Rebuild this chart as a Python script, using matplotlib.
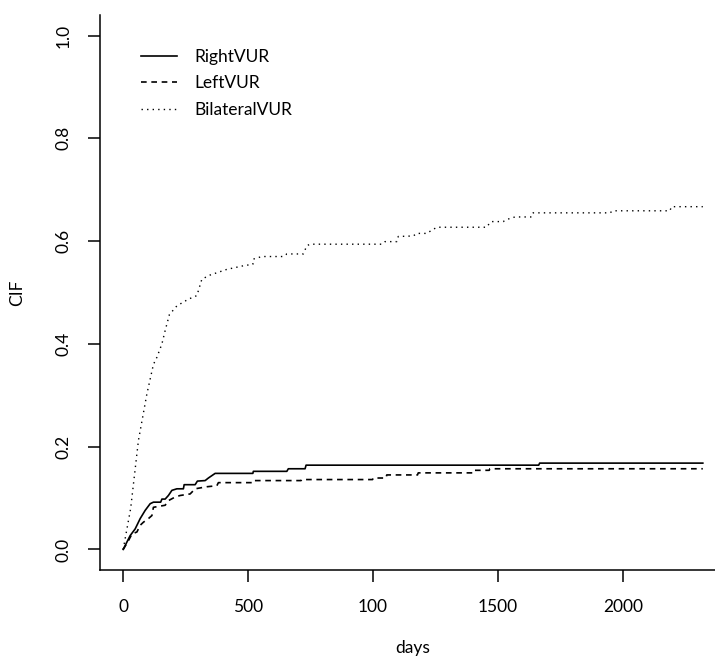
import matplotlib.pyplot as plt

# =====================================================
# Style
# =====================================================

plt.rcParams.update({
    "font.family": ["Lato", "DejaVu Sans"],
    "font.size": 12.5,
    "axes.linewidth": 1.1,
    "xtick.major.width": 1.1,
    "ytick.major.width": 1.1,
    "xtick.major.size": 8.6,
    "ytick.major.size": 8.6,
})

# =====================================================
# Data (curve vertices)
# =====================================================

right_t = [0, 28, 48, 68, 88, 108, 121, 150, 155, 168, 181, 195, 215, 241,
           244, 288, 297, 328, 341, 368, 519, 521, 655, 661, 728, 732, 1663,
           1667, 2320]
right_cif = [0.0, 0.027, 0.040, 0.060, 0.076, 0.089, 0.092, 0.092, 0.098,
             0.098, 0.105, 0.115, 0.118, 0.118, 0.126, 0.126, 0.133, 0.134,
             0.139, 0.148, 0.148, 0.152, 0.152, 0.157, 0.157, 0.164, 0.164,
             0.168, 0.168]

left_t = [0, 21, 35, 55, 68, 81, 101, 115, 121, 168, 181, 208, 228, 268,
          288, 335, 375, 381, 521, 524, 712, 715, 998, 1001, 1052, 1055,
          1178, 1181, 1398, 1401, 1465, 1468, 2320]
left_cif = [0.0, 0.017, 0.030, 0.034, 0.047, 0.053, 0.060, 0.066, 0.082,
            0.086, 0.095, 0.102, 0.105, 0.108, 0.118, 0.122, 0.124, 0.130,
            0.130, 0.134, 0.134, 0.136, 0.136, 0.139, 0.139, 0.145, 0.145,
            0.149, 0.149, 0.154, 0.154, 0.157, 0.157]

bilat_t = [0, 30, 61, 95, 121, 135, 155, 168, 185, 215, 261, 295, 305, 315,
           348, 415, 481, 519, 521, 555, 641, 655, 721, 735, 748, 1035, 1048,
           1095, 1101, 1161, 1175, 1215, 1241, 1257, 1455, 1468, 1475, 1521,
           1535, 1568, 1635, 1641, 1948, 1961, 2188, 2195, 2320]
bilat_cif = [0.0, 0.080, 0.212, 0.303, 0.360, 0.374, 0.400, 0.426, 0.457,
             0.474, 0.487, 0.494, 0.510, 0.526, 0.534, 0.545, 0.552, 0.555,
             0.565, 0.570, 0.570, 0.575, 0.575, 0.591, 0.594, 0.594, 0.599,
             0.599, 0.609, 0.610, 0.615, 0.615, 0.623, 0.627, 0.627, 0.636,
             0.638, 0.638, 0.642, 0.647, 0.647, 0.655, 0.655, 0.659, 0.659,
             0.667, 0.667]

x_ticks = [0, 500, 1000, 1500, 2000]
x_tick_labels = ["0", "500", "100", "1500", "2000"]
y_ticks = [0.0, 0.2, 0.4, 0.6, 0.8, 1.0]
y_tick_labels = ["0.0", "0.2", "0.4", "0.6", "0.8", "1.0"]

# =====================================================
# Plot
# =====================================================

W, H = 715, 657
fig = plt.figure(figsize=(W / 100, H / 100), dpi=100)
# plot region runs slightly past the right edge, like the cropped original
ax = fig.add_axes([100 / W, (H - 570) / H, (726 - 100) / W, (570 - 15) / H])

ax.plot(right_t, right_cif, color="black", lw=1.2, label="RightVUR")
ax.plot(left_t, left_cif, color="black", lw=1.2, dashes=(3.4, 2.8),
        label="LeftVUR")
ax.plot(bilat_t, bilat_cif, color="black", lw=1.0, dashes=(1.0, 3.0),
        label="BilateralVUR")

ax.set_xlim(-92.8, 2412.8)
ax.set_ylim(-0.04, 1.04)

ax.set_xticks(x_ticks)
ax.set_xticklabels(x_tick_labels)
ax.set_yticks(y_ticks)
ax.set_yticklabels(y_tick_labels, rotation=90, va="center")
ax.tick_params(axis="x", pad=12)
ax.tick_params(axis="y", pad=12)

ax.spines["top"].set_visible(False)
ax.spines["right"].set_visible(False)

ax.set_xlabel("days", labelpad=18)
ax.set_ylabel("CIF", labelpad=22)

ax.legend(loc="upper left", bbox_to_anchor=(132 / W, (H - 40) / H),
          bbox_transform=fig.transFigure, frameon=False, borderpad=0,
          handlelength=2.1, handletextpad=1.0, labelspacing=0.62)

fig.savefig("out.png", dpi=100)
